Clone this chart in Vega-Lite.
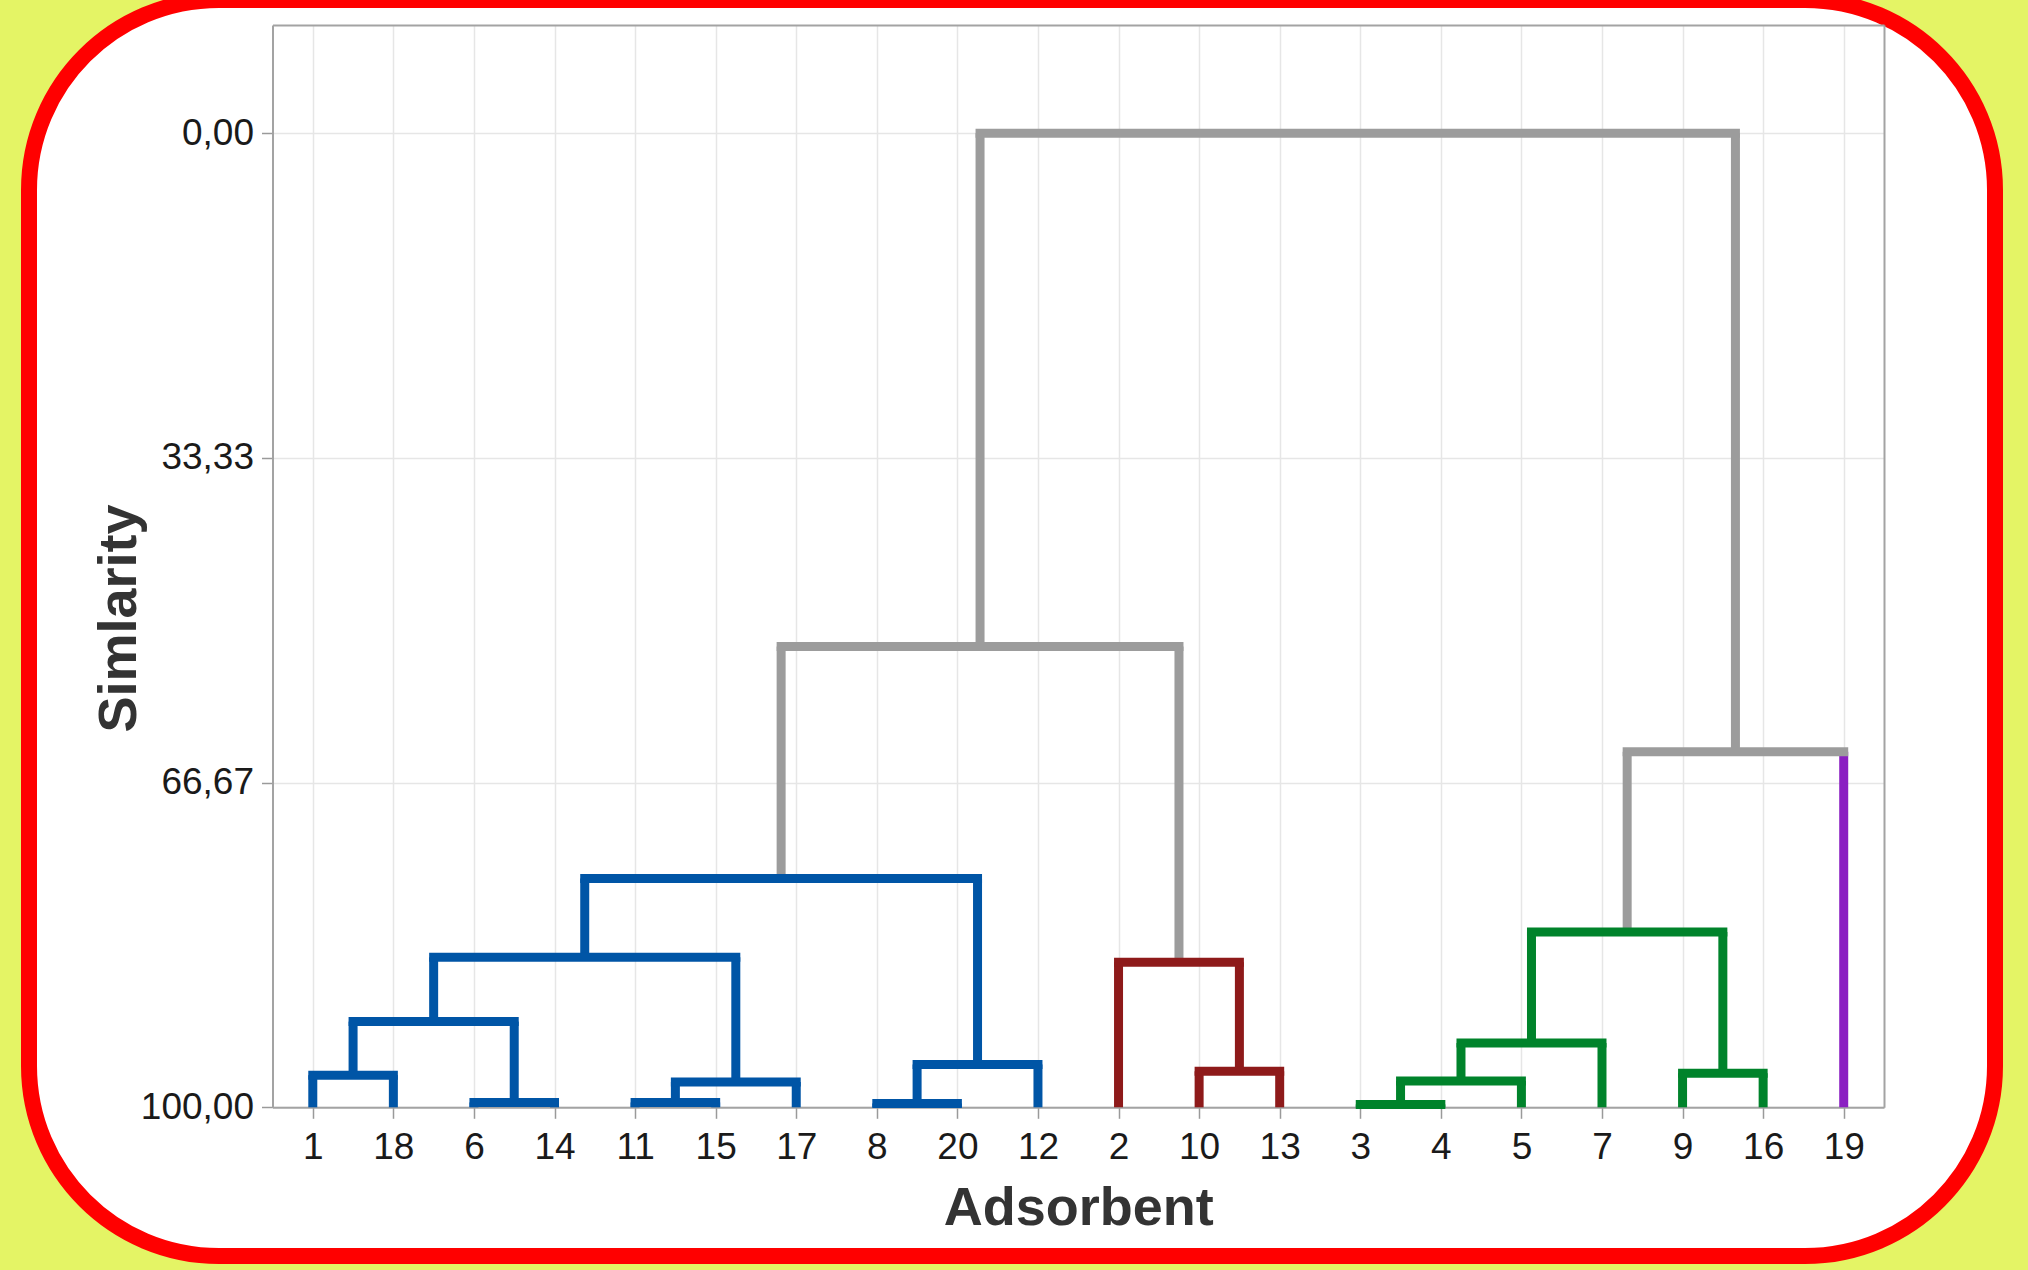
{
  "$schema": "https://vega.github.io/schema/vega-lite/v6.json",
  "width": 1966,
  "height": 1256,
  "autosize": {"type": "none"},
  "padding": {"left": 29, "top": 0, "right": 33, "bottom": 14},
  "background": "#E4F465",
  "view": {"fill": "#FFFFFF", "stroke": "#FF0000", "strokeWidth": 16, "cornerRadius": 190},
  "config": {
    "font": "Liberation Sans",
    "axis": {
      "labelFont": "Liberation Sans",
      "labelFontSize": 37,
      "labelColor": "#1A1A1A",
      "titleFont": "Liberation Sans",
      "titleFontSize": 54,
      "titleFontWeight": "bold",
      "titleColor": "#333333",
      "domainColor": "#A3A3A3",
      "domainWidth": 2,
      "tickColor": "#9A9A9A",
      "tickWidth": 1.5,
      "tickSize": 11,
      "gridColor": "#E6E6E6",
      "gridWidth": 1.5
    }
  },
  "datasets": {
    "segments": [
      {"node": "A", "part": "join", "x_from": 1, "x_to": 2, "sim_from": 96.7, "sim_to": 96.7, "cluster": "Cluster 1"},
      {"node": "A", "part": "stem", "x_from": 1, "x_to": 1, "sim_from": 100, "sim_to": 96.7, "cluster": "Cluster 1"},
      {"node": "A", "part": "stem", "x_from": 2, "x_to": 2, "sim_from": 100, "sim_to": 96.7, "cluster": "Cluster 1"},
      {"node": "B", "part": "join", "x_from": 3, "x_to": 4, "sim_from": 99.5, "sim_to": 99.5, "cluster": "Cluster 1"},
      {"node": "B", "part": "stem", "x_from": 3, "x_to": 3, "sim_from": 100, "sim_to": 99.5, "cluster": "Cluster 1"},
      {"node": "B", "part": "stem", "x_from": 4, "x_to": 4, "sim_from": 100, "sim_to": 99.5, "cluster": "Cluster 1"},
      {"node": "C", "part": "join", "x_from": 1.5, "x_to": 3.5, "sim_from": 91.2, "sim_to": 91.2, "cluster": "Cluster 1"},
      {"node": "C", "part": "stem", "x_from": 1.5, "x_to": 1.5, "sim_from": 96.7, "sim_to": 91.2, "cluster": "Cluster 1"},
      {"node": "C", "part": "stem", "x_from": 3.5, "x_to": 3.5, "sim_from": 99.5, "sim_to": 91.2, "cluster": "Cluster 1"},
      {"node": "D", "part": "join", "x_from": 5, "x_to": 6, "sim_from": 99.5, "sim_to": 99.5, "cluster": "Cluster 1"},
      {"node": "D", "part": "stem", "x_from": 5, "x_to": 5, "sim_from": 100, "sim_to": 99.5, "cluster": "Cluster 1"},
      {"node": "D", "part": "stem", "x_from": 6, "x_to": 6, "sim_from": 100, "sim_to": 99.5, "cluster": "Cluster 1"},
      {"node": "E", "part": "join", "x_from": 5.5, "x_to": 7, "sim_from": 97.4, "sim_to": 97.4, "cluster": "Cluster 1"},
      {"node": "E", "part": "stem", "x_from": 5.5, "x_to": 5.5, "sim_from": 99.5, "sim_to": 97.4, "cluster": "Cluster 1"},
      {"node": "E", "part": "stem", "x_from": 7, "x_to": 7, "sim_from": 100, "sim_to": 97.4, "cluster": "Cluster 1"},
      {"node": "F", "part": "join", "x_from": 2.5, "x_to": 6.25, "sim_from": 84.6, "sim_to": 84.6, "cluster": "Cluster 1"},
      {"node": "F", "part": "stem", "x_from": 2.5, "x_to": 2.5, "sim_from": 91.2, "sim_to": 84.6, "cluster": "Cluster 1"},
      {"node": "F", "part": "stem", "x_from": 6.25, "x_to": 6.25, "sim_from": 97.4, "sim_to": 84.6, "cluster": "Cluster 1"},
      {"node": "G", "part": "join", "x_from": 8, "x_to": 9, "sim_from": 99.6, "sim_to": 99.6, "cluster": "Cluster 1"},
      {"node": "G", "part": "stem", "x_from": 8, "x_to": 8, "sim_from": 100, "sim_to": 99.6, "cluster": "Cluster 1"},
      {"node": "G", "part": "stem", "x_from": 9, "x_to": 9, "sim_from": 100, "sim_to": 99.6, "cluster": "Cluster 1"},
      {"node": "H", "part": "join", "x_from": 8.5, "x_to": 10, "sim_from": 95.6, "sim_to": 95.6, "cluster": "Cluster 1"},
      {"node": "H", "part": "stem", "x_from": 8.5, "x_to": 8.5, "sim_from": 99.6, "sim_to": 95.6, "cluster": "Cluster 1"},
      {"node": "H", "part": "stem", "x_from": 10, "x_to": 10, "sim_from": 100, "sim_to": 95.6, "cluster": "Cluster 1"},
      {"node": "I", "part": "join", "x_from": 4.375, "x_to": 9.25, "sim_from": 76.5, "sim_to": 76.5, "cluster": "Cluster 1"},
      {"node": "I", "part": "stem", "x_from": 4.375, "x_to": 4.375, "sim_from": 84.6, "sim_to": 76.5, "cluster": "Cluster 1"},
      {"node": "I", "part": "stem", "x_from": 9.25, "x_to": 9.25, "sim_from": 95.6, "sim_to": 76.5, "cluster": "Cluster 1"},
      {"node": "J", "part": "join", "x_from": 12, "x_to": 13, "sim_from": 96.3, "sim_to": 96.3, "cluster": "Cluster 2"},
      {"node": "J", "part": "stem", "x_from": 12, "x_to": 12, "sim_from": 100, "sim_to": 96.3, "cluster": "Cluster 2"},
      {"node": "J", "part": "stem", "x_from": 13, "x_to": 13, "sim_from": 100, "sim_to": 96.3, "cluster": "Cluster 2"},
      {"node": "K", "part": "join", "x_from": 11, "x_to": 12.5, "sim_from": 85.1, "sim_to": 85.1, "cluster": "Cluster 2"},
      {"node": "K", "part": "stem", "x_from": 11, "x_to": 11, "sim_from": 100, "sim_to": 85.1, "cluster": "Cluster 2"},
      {"node": "K", "part": "stem", "x_from": 12.5, "x_to": 12.5, "sim_from": 96.3, "sim_to": 85.1, "cluster": "Cluster 2"},
      {"node": "L", "part": "join", "x_from": 6.8125, "x_to": 11.75, "sim_from": 52.7, "sim_to": 52.7, "cluster": "Link"},
      {"node": "L", "part": "stem", "x_from": 6.8125, "x_to": 6.8125, "sim_from": 76.5, "sim_to": 52.7, "cluster": "Link"},
      {"node": "L", "part": "stem", "x_from": 11.75, "x_to": 11.75, "sim_from": 85.1, "sim_to": 52.7, "cluster": "Link"},
      {"node": "M", "part": "join", "x_from": 14, "x_to": 15, "sim_from": 99.7, "sim_to": 99.7, "cluster": "Cluster 3"},
      {"node": "M", "part": "stem", "x_from": 14, "x_to": 14, "sim_from": 100, "sim_to": 99.7, "cluster": "Cluster 3"},
      {"node": "M", "part": "stem", "x_from": 15, "x_to": 15, "sim_from": 100, "sim_to": 99.7, "cluster": "Cluster 3"},
      {"node": "N", "part": "join", "x_from": 14.5, "x_to": 16, "sim_from": 97.3, "sim_to": 97.3, "cluster": "Cluster 3"},
      {"node": "N", "part": "stem", "x_from": 14.5, "x_to": 14.5, "sim_from": 99.7, "sim_to": 97.3, "cluster": "Cluster 3"},
      {"node": "N", "part": "stem", "x_from": 16, "x_to": 16, "sim_from": 100, "sim_to": 97.3, "cluster": "Cluster 3"},
      {"node": "O", "part": "join", "x_from": 15.25, "x_to": 17, "sim_from": 93.4, "sim_to": 93.4, "cluster": "Cluster 3"},
      {"node": "O", "part": "stem", "x_from": 15.25, "x_to": 15.25, "sim_from": 97.3, "sim_to": 93.4, "cluster": "Cluster 3"},
      {"node": "O", "part": "stem", "x_from": 17, "x_to": 17, "sim_from": 100, "sim_to": 93.4, "cluster": "Cluster 3"},
      {"node": "P", "part": "join", "x_from": 18, "x_to": 19, "sim_from": 96.5, "sim_to": 96.5, "cluster": "Cluster 3"},
      {"node": "P", "part": "stem", "x_from": 18, "x_to": 18, "sim_from": 100, "sim_to": 96.5, "cluster": "Cluster 3"},
      {"node": "P", "part": "stem", "x_from": 19, "x_to": 19, "sim_from": 100, "sim_to": 96.5, "cluster": "Cluster 3"},
      {"node": "Q", "part": "join", "x_from": 16.125, "x_to": 18.5, "sim_from": 82.0, "sim_to": 82.0, "cluster": "Cluster 3"},
      {"node": "Q", "part": "stem", "x_from": 16.125, "x_to": 16.125, "sim_from": 93.4, "sim_to": 82.0, "cluster": "Cluster 3"},
      {"node": "Q", "part": "stem", "x_from": 18.5, "x_to": 18.5, "sim_from": 96.5, "sim_to": 82.0, "cluster": "Cluster 3"},
      {"node": "R", "part": "join", "x_from": 17.3125, "x_to": 20, "sim_from": 63.5, "sim_to": 63.5, "cluster": "Link"},
      {"node": "R", "part": "stem", "x_from": 17.3125, "x_to": 17.3125, "sim_from": 82.0, "sim_to": 63.5, "cluster": "Link"},
      {"node": "R", "part": "stem", "x_from": 20, "x_to": 20, "sim_from": 100, "sim_to": 63.5, "cluster": "Cluster 4"},
      {"node": "Root", "part": "join", "x_from": 9.28125, "x_to": 18.65625, "sim_from": 0, "sim_to": 0, "cluster": "Link"},
      {"node": "Root", "part": "stem", "x_from": 9.28125, "x_to": 9.28125, "sim_from": 52.7, "sim_to": 0, "cluster": "Link"},
      {"node": "Root", "part": "stem", "x_from": 18.65625, "x_to": 18.65625, "sim_from": 63.5, "sim_to": 0, "cluster": "Link"}
    ]
  },
  "data": {"name": "segments"},
  "resolve": {"axis": {"x": "independent", "y": "independent"}},
  "layer": [
    {
      "transform": [{"filter": "datum.part === 'stem'"}],
      "mark": {"type": "rule", "strokeWidth": 9, "strokeCap": "butt"},
      "encoding": {
        "x": {
          "field": "x_from", "type": "quantitative",
          "scale": {"domain": [0.5, 20.5], "range": [243.5, 1855], "nice": false, "zero": false},
          "axis": {
            "orient": "top", "offset": -25, "values": [1, 2, 3, 4, 5, 6, 7, 8, 9, 10, 11, 12, 13, 14, 15, 16, 17, 18, 19, 20],
            "grid": true, "labels": false, "ticks": false, "domain": true, "title": null
          }
        },
        "x2": {"field": "x_to"},
        "y": {
          "field": "sim_from", "type": "quantitative",
          "scale": {"domain": [-11.12, 100], "range": [25, 1107.3], "nice": false, "zero": false},
          "axis": {"orient": "right", "offset": -111, "grid": false, "labels": false, "ticks": false, "domain": true, "title": null}
        },
        "y2": {"field": "sim_to"},
        "color": {
          "field": "cluster", "type": "nominal",
          "scale": {
            "domain": ["Cluster 1", "Cluster 2", "Cluster 3", "Cluster 4", "Link"],
            "range": ["#0055A6", "#8E1A1A", "#00832B", "#8B1FC2", "#9C9C9C"]
          },
          "legend": null
        }
      }
    },
    {
      "transform": [{"filter": "datum.part === 'join'"}],
      "mark": {"type": "rule", "strokeWidth": 9, "strokeCap": "square"},
      "encoding": {
        "x": {
          "field": "x_from", "type": "quantitative",
          "scale": {"domain": [0.5, 20.5], "range": [243.5, 1855], "nice": false, "zero": false},
          "axis": {
            "orient": "bottom", "offset": -148.7, "values": [1, 2, 3, 4, 5, 6, 7, 8, 9, 10, 11, 12, 13, 14, 15, 16, 17, 18, 19, 20],
            "labelExpr": "['1','18','6','14','11','15','17','8','20','12','2','10','13','3','4','5','7','9','16','19'][datum.value - 1]",
            "labelPadding": 11, "labelFlush": false, "labelOverlap": false,
            "grid": false, "domain": true,
            "title": "Adsorbent", "titleBaseline": "alphabetic", "titleY": 116.7
          }
        },
        "x2": {"field": "x_to"},
        "y": {
          "field": "sim_from", "type": "quantitative",
          "scale": {"domain": [-11.12, 100], "range": [25, 1107.3], "nice": false, "zero": false},
          "axis": {
            "orient": "left", "offset": -243.5, "values": [0, 33.333, 66.667, 100],
            "labelExpr": "replace(format(datum.value, '.2f'), '.', ',')",
            "labelPadding": 8, "labelFlush": false, "labelOverlap": false,
            "grid": true, "domain": true,
            "title": "Simlarity", "titleBaseline": "alphabetic", "titleAngle": -90, "titleX": -137.5, "titleY": 618
          }
        },
        "y2": {"field": "sim_to"},
        "color": {"field": "cluster", "type": "nominal", "legend": null}
      }
    }
  ]
}
